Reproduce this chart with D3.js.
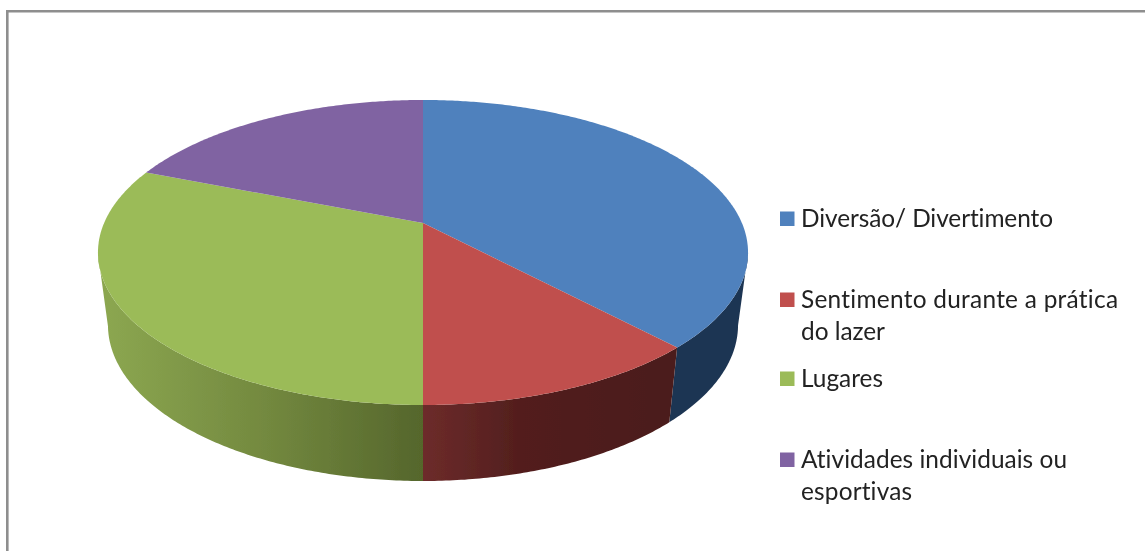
<!DOCTYPE html>
<html><head><meta charset="utf-8">
<script src="https://cdn.jsdelivr.net/npm/d3@7"></script>
<style>html,body{margin:0;padding:0;background:#fff;overflow:hidden}svg{display:block}text{font-variant-ligatures:none}</style>
</head><body><svg id="c" width="1145" height="551"></svg>
<script>
const categories = ["Diversão/ Divertimento","Sentimento durante a prática do lazer","Lugares","Atividades individuais ou esportivas"];
const values = [38,12,31,19];
const legendLines = [["Diversão/ Divertimento"],["Sentimento durante a prática","do lazer"],["Lugares"],["Atividades individuais ou","esportivas"]];
const legendWidths = [[252],[317,84],[82],[266,111]];
const legendBaselines = [227,308,387,468];
const faceColors = ["#4f81bd","#c0504d","#9bbb59","#8064a2"];
const wallStops = [
  [[0,"#1f3552"],[1,"#1f3552"]],
  [[0,"#6d2b2a"],[0.2,"#5f2524"],[0.4,"#521e1d"],[1,"#4b1b1a"]],
  [[0,"#8ba650"],[0.5,"#73893f"],[1,"#55662c"]],
  [[0,"#4c3a63"],[1,"#4c3a63"]]
];

const svg = d3.select("#c");
const defs = svg.append("defs");
defs.append("filter").attr("id","soft").append("feGaussianBlur").attr("stdDeviation",0.5);

// top face: a circle seen in perspective, apex above the ellipse centre
const cx = 423, apexY = 223, k = 0.1934, a = 146.8, b = 318.9;
const topRim = t => {
  const x = Math.sin(t), y = Math.cos(t), w = 1 + k*y;
  return [cx + b*x/w, apexY - a*y/w];
};
// bottom rim: the top rim, slightly narrower and moved down
const topMidY = 252.5, botMidY = 325, sx = 315/325, sy = 156/152.5;
const bottomRim = t => {
  const [x,y] = topRim(t);
  return [cx + (x-cx)*sx, botMidY + (y-topMidY)*sy];
};

const arcs = d3.pie().sort(null).startAngle(0).endAngle(2*Math.PI)(values);
const line = d3.line();
const samples = d => {
  const n = Math.max(2, Math.ceil((d.endAngle-d.startAngle)/0.01));
  return d3.range(n+1).map(i => d.startAngle + (d.endAngle-d.startAngle)*i/n);
};
const frontSamples = d => samples(d).filter(t => topRim(t)[1] >= topMidY);

svg.append("path")
  .attr("d","M1145,11.3H7.3V551")
  .attr("fill","none").attr("stroke","#8e8e8e").attr("stroke-width",2.6);

const pieG = svg.append("g").attr("filter","url(#soft)");

arcs.forEach((d,i) => {
  const g = defs.append("linearGradient").attr("id","wall"+i)
    .attr("gradientUnits","userSpaceOnUse");
  const xs = frontSamples(d).map(bottomRim).map(p => p[0]);
  const ext = d3.extent(xs.length ? xs : [cx-300,cx+300]);
  g.attr("x1",ext[0]).attr("x2",ext[1]).attr("y1",0).attr("y2",0);
  wallStops[i].forEach(s => g.append("stop").attr("offset",s[0]).attr("stop-color",s[1]));
});

// walls: only the front half of the rim shows
pieG.selectAll("path.wall")
  .data(arcs.map((d,i)=>({d,i})).filter(p=>frontSamples(p.d).length>1))
  .join("path").attr("class","wall")
  .attr("fill",p=>`url(#wall${p.i})`)
  .attr("d",p=>{
    const ts = frontSamples(p.d);
    return line(ts.map(topRim).concat(ts.slice().reverse().map(bottomRim)))+"Z";
  });

// top faces
pieG.selectAll("path.face")
  .data(arcs)
  .join("path").attr("class","face")
  .attr("fill",(d,i)=>faceColors[i])
  .attr("d",d=>line([[cx,apexY]].concat(samples(d).map(topRim)))+"Z");

// legend
const lg = svg.append("g").attr("filter","url(#soft)");
legendLines.forEach((ls,i)=>{
  lg.append("rect").attr("x",780).attr("y",legendBaselines[i]-15.5)
    .attr("width",14.5).attr("height",14.5).attr("fill",faceColors[i]);
  ls.forEach((s,j)=>{
    lg.append("text").attr("x",801).attr("y",legendBaselines[i]+j*31.5)
      .attr("font-family","Lato, 'Open Sans', sans-serif").attr("font-size",24.4)
      .attr("textLength",legendWidths[i][j]).attr("lengthAdjust","spacing")
      .attr("fill","#222").text(s);
  });
});
</script></body></html>
